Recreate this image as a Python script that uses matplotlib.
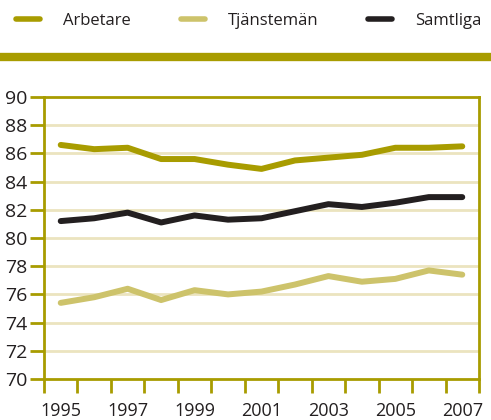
import numpy as np
import matplotlib
matplotlib.use("Agg")
import matplotlib.pyplot as plt
from matplotlib.lines import Line2D

# Data
years = list(range(1995, 2008))
arbetare = [86.6, 86.3, 86.4, 85.6, 85.6, 85.2, 84.9, 85.5, 85.7, 85.9, 86.4, 86.4, 86.5]
tjanstemán = [75.4, 75.8, 76.4, 75.6, 76.3, 76.0, 76.2, 76.7, 77.3, 76.9, 77.1, 77.7, 77.4]
samtliga = [81.2, 81.4, 81.8, 81.1, 81.6, 81.3, 81.4, 81.9, 82.4, 82.2, 82.5, 82.9, 82.9]
series_names = ["Arbetare", "Tjänstemän", "Samtliga"]
x_labels = [str(y) if (y - 1995) % 2 == 0 else "" for y in years]
y_ticks = list(range(70, 91, 2))

olive = "#a89c00"
light = "#cdc36b"
dark = "#231f20"
grid_col = "#ebe4bf"

plt.rcParams["font.family"] = ["Open Sans", "DejaVu Sans"]

fig = plt.figure(figsize=(4.91, 4.20), dpi=100)
ax = fig.add_axes([44 / 491, 1 - 379 / 420, 435 / 491, 282 / 420])

x = np.arange(len(years)) + 0.5
for vals, col, name in zip([arbetare, tjanstemán, samtliga], [olive, light, dark], series_names):
    ax.plot(x, vals, color=col, lw=4.3, label=name, solid_capstyle="round", solid_joinstyle="round", zorder=3)

ax.set_xlim(0, len(years))
ax.set_ylim(70, 90)
ax.set_yticks(y_ticks)
ax.set_yticklabels([str(v) for v in y_ticks], fontsize=14, color="#231f20")
ax.set_xticks(np.arange(len(years) + 1))
ax.set_xticklabels([""] * (len(years) + 1))
# year labels centred under each category
ax.set_xticks(x, minor=True)
ax.set_xticklabels(x_labels, minor=True, fontsize=13, color="#231f20")
ax.tick_params(axis="x", which="minor", length=0, pad=16.5)
ax.tick_params(axis="x", which="major", direction="out", length=10, width=2, color=olive)
ax.tick_params(axis="y", direction="out", length=10, width=2, color=olive, pad=2)

for v in y_ticks[1:-1]:
    ax.axhline(v, color=grid_col, lw=2, zorder=1)

for s in ax.spines.values():
    s.set_color(olive)
    s.set_linewidth(2)

# band under the legend
fig.add_artist(Line2D([0, 1], [1 - 57 / 420] * 2, transform=fig.transFigure, color=olive, lw=6))

leg = fig.legend(loc="center left", bbox_to_anchor=(16 / 491, 1 - 21 / 420), ncol=3, frameon=False,
                 fontsize=12, handlelength=1.44, handletextpad=1.38, columnspacing=3.0,
                 borderaxespad=0, borderpad=0)
for h in leg.get_lines():
    h.set_linewidth(4.0)
    h.set_solid_capstyle("round")
for t in leg.get_texts():
    t.set_color("#231f20")

fig.savefig("out.png", dpi=100)
